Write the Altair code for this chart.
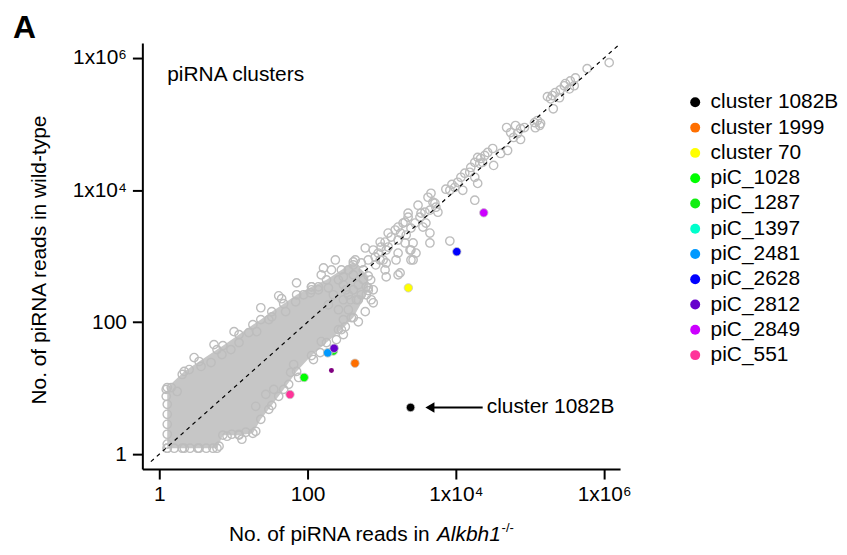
import altair as alt
import pandas as pd

# ---------------- data ----------------
# grey piRNA clusters (reads in Alkbh1-/- , reads in wild-type)
gray_x = [1.17e6, 5.9e5, 4.1e5, 3.5e5, 3.0e5, 2.9e5, 2.56e5, 2.2e5, 2.0e5, 1.72e5, 1.9e5, 2.5e5, 2.06e5, 3.4e5, 3.95e5,
          1.26e5, 1.15e5, 1.35e5, 1.18e5, 1.39e5, 4.84e4, 6.38e4, 7.46e4, 8.43e4, 6.79e4, 7.46e4, 5.48e4, 6.0e4,
          3.14e4, 2.69e4, 2.45e4, 2.16e4, 1.97e4, 1.8e4, 2.1e4, 2.3e4, 3.23e4, 4.02e4, 4.99e4, 1.97e4, 1.8e4, 1.59e4,
          1.54e4, 1.32e4, 1.17e4, 1.06e4, 9690, 8850, 1.24e4, 8300, 7330, 1.8e4, 4620, 4210, 4910, 5220, 5380, 4470,
          3830, 3390, 3280, 5730, 3090, 3950, 3600, 2810, 2480, 2270, 1940, 1660, 1520, 1340, 1110, 983, 1150, 897,
          1047, 1222, 1664, 2070, 2480, 2900, 2480, 4470, 4470, 8300, 2270, 2070, 1800, 2140, 2650, 2410, 2650, 953,
          600, 769, 1222, 817, 953, 1150, 1664, 1560, 659, 530, 440, 1110, 1150, 1664, 1770, 237, 210, 153, 355, 304,
          113, 140, 620,
          659, 722, 769, 600, 390, 323, 261, 245, 153, 148, 64.9, 59.1, 55.6, 40.8, 35, 27.3, 20, 20, 14.7, 11.9,
          9.5, 8.2,
          2.04, 2.53, 3.66, 4.99, 7.0, 9.25, 11.9, 16.1, 20.6, 30, 32.9, 50.6, 69, 88.3, 109.5, 140, 44.7, 113, 191,
          261,
          1.24, 1.45, 1.74, 1.24, 1.28, 1.28, 1.28, 1.28, 1.28, 1.28, 1.59, 2.04, 2.6, 3.3, 4.3, 5.3, 6.4,
          304, 355, 414, 484, 455, 530, 565, 414, 304, 223, 191, 261, 355, 304,
          2.95, 5.47, 10.2, 23.4, 40.8, 164, 71,
          75.7, 120, 304, 484, 30, 13,
          484, 620, 769, 710, 565, 830, 414, 330, 380]
gray_y = [8.5e5, 6.9e5, 5.0e5, 4.5e5, 4.1e5, 3.8e5, 3.3e5, 3.0e5, 2.7e5, 2.6e5, 2.4e5, 2.5e5, 1.7e5, 3.4e5, 3.8e5,
          1.13e5, 1.05e5, 9.5e4, 8.8e4, 1.02e5, 8.84e4, 9.5e4, 8.54e4, 8.84e4, 7.18e4, 5.83e4, 7.43e4, 6.25e4,
          4.26e4, 3.71e4, 3.34e4, 3.01e4, 3.12e4, 2.62e4, 2.53e4, 2.62e4, 2.36e4, 3.58e4, 3.98e4, 1.26e4, 1.56e4, 2.2e4,
          1.86e4, 1.8e4, 1.56e4, 1.31e4, 1.1e4, 1.22e4, 9920, 9920, 1.03e4, 7010, 8940, 7780, 6540, 6320, 5500, 4955,
          4620, 4470, 3890, 4620, 5890, 3160, 2750, 3160, 2650, 3890, 3160, 2750, 2480, 1940, 1630, 1370, 1236, 1110,
          873, 2230, 1750, 1580, 1236, 1110, 873, 2230, 1580, 1690, 4460, 3270, 2230, 2080, 1580, 1236, 873, 1630,
          1325, 1236, 1370, 970, 873, 787, 1110, 873, 873, 787, 873, 617, 484, 519, 556, 873, 617, 519, 617, 484,
          342, 342, 342,
          330, 218, 196, 144, 117, 85, 76.8, 54.3, 50.7, 34.5, 22.8, 17.3, 11.4, 7.5, 9.56, 8.04, 5.3, 2.22, 2.15, 2.0,
          2.0, 1.87,
          16.1, 19.1, 21.3, 24.4, 32.2, 38.3, 48.9, 69.2, 71.6, 109, 120, 144, 203, 259, 278, 308, 226, 308, 330,
          436,
          9.56, 10.2, 8.9, 7.5, 5.68, 4.01, 2.83, 2.0, 1.42, 1.23, 1.23, 1.23, 1.23, 1.23, 1.23, 1.23, 1.32,
          218, 259, 308, 367, 218, 259, 436, 519, 367, 259, 183, 154, 154, 109,
          29.0, 45.6, 71.6, 165, 250, 661, 393,
          14.5, 27.1, 64.6, 101, 4.77, 1.68,
          218, 259, 308, 436, 617, 734, 734, 308, 218]

# outline of the densely packed core of the grey cloud
band_x = [1.28, 2.17, 3.44, 6.0, 7.2, 11.9, 18.3, 23.4, 32.9, 47.6, 71.2, 113, 180, 286, 414, 659]
band_lo = [1.23, 1.23, 1.23, 1.23, 1.94, 1.94, 2.07, 3.37, 5.48, 9.56, 17.9, 31.1, 48.9, 76.8, 117, 300]
band_hi = [10.2, 17.9, 25.3, 38.3, 44.0, 64.6, 91.4, 109, 144, 190, 259, 342, 436, 617, 815, 500]

# highlighted clusters
cluster_names = ["cluster 1082B", "cluster 1999", "cluster 70", "piC_1028", "piC_1287", "piC_1397",
                 "piC_2481", "piC_2628", "piC_2812", "piC_2849", "piC_551"]
cluster_x = [2450, 436, 2290, 90, 223, 188, 187, 10300, 228, 23800, 58]
cluster_y = [5.1, 23.8, 330, 14.5, 36.4, 34.5, 34.2, 1165, 40.1, 4520, 8.0]
cluster_colors = ["#000000", "#ff6f00", "#ffff00", "#00ff00", "#11ee11", "#00ffcc",
                  "#0099ff", "#0000ff", "#6600cc", "#cc00ff", "#ff3399"]

extra_x = [210]
extra_y = [18.5]

diag = [0.77, 1.6e6]
tick_values = [1, 100, 10000, 1000000]

# ---------------- chart ----------------
FONT = "Liberation Sans"
label_expr = ("datum.value == 1 ? '1' : datum.value == 100 ? '100' : "
              "datum.value == 10000 ? '1x10\u2074' : '1x10\u2076'")

xscale = alt.Scale(type="log", domain=[0.591, 1.64e6], nice=False)
yscale = alt.Scale(type="log", domain=[0.594, 1.68e6], nice=False)

xaxis = alt.Axis(values=tick_values, labelExpr=label_expr, title=None, grid=False,
                 labelFont=FONT, labelFontSize=21, labelColor="black", labelPadding=5,
                 tickSize=10, tickWidth=2, tickColor="black", domainWidth=2, domainColor="black",
                 labelOverlap=False, labelFlush=False)
yaxis = alt.Axis(values=tick_values, labelExpr=label_expr, title=None, grid=False,
                 labelFont=FONT, labelFontSize=21, labelColor="black", labelPadding=6,
                 tickSize=10, tickWidth=2, tickColor="black", domainWidth=2, domainColor="black",
                 labelOverlap=False, labelFlush=False)

gray_df = pd.DataFrame({"x": gray_x, "y": gray_y})
band_df = pd.DataFrame({"x": band_x, "lo": band_lo, "hi": band_hi})
band_pts = pd.DataFrame({"x": band_x + band_x, "y": band_lo + band_hi})
clus_df = pd.DataFrame({"name": cluster_names, "x": cluster_x, "y": cluster_y,
                        "order": list(range(len(cluster_names)))})
extra_df = pd.DataFrame({"x": extra_x, "y": extra_y})
diag_df = pd.DataFrame({"x": diag, "y": diag})


def xy(xf="x:Q", yf="y:Q"):
    return dict(x=alt.X(xf, scale=xscale, axis=xaxis), y=alt.Y(yf, scale=yscale, axis=yaxis))


band = alt.Chart(band_df).mark_area(color="#c6c6c6", opacity=1).encode(
    **xy("x:Q", "lo:Q"), y2="hi:Q")

circle_style = dict(shape="circle", filled=False, color="#bdbdbd", strokeWidth=1.4, size=70, opacity=1)
band_circles = alt.Chart(band_pts).mark_point(**circle_style).encode(**xy())
gray = alt.Chart(gray_df).mark_point(**circle_style).encode(**xy())

diag_line = alt.Chart(diag_df).mark_line(color="black", strokeDash=[4, 4], strokeWidth=1.2).encode(**xy())

extra = alt.Chart(extra_df).mark_circle(color="#800080", size=25, opacity=1).encode(**xy())

clusters = alt.Chart(clus_df).mark_circle(size=72, opacity=1, stroke="#c8c8c8", strokeWidth=0.8).encode(
    **xy(),
    order=alt.Order("order:Q"),
    color=alt.Color("name:N",
                    scale=alt.Scale(domain=cluster_names, range=cluster_colors),
                    legend=alt.Legend(title=None, orient="none", legendX=545, legendY=49,
                                      labelFont=FONT, labelFontSize=21, labelColor="black",
                                      symbolType="circle", symbolSize=100, symbolStrokeWidth=0,
                                      rowPadding=3.4, labelOffset=5, padding=0)),
)

arrow_df = pd.DataFrame({"x": [4470], "x2": [23000], "y": [5.1]})
arrow_line = alt.Chart(arrow_df).mark_rule(color="black", strokeWidth=2).encode(**xy(), x2="x2:Q")
head_df = pd.DataFrame({"x": [4470], "y": [5.1]})
arrow_head = alt.Chart(head_df).mark_point(shape="triangle-left", filled=True, color="black",
                                           size=110, opacity=1).encode(**xy())
lab_df = pd.DataFrame({"x": [26100], "y": [5.1], "t": ["cluster 1082B"]})
arrow_text = alt.Chart(lab_df).mark_text(font=FONT, fontSize=21, align="left", baseline="middle",
                                         color="black").encode(**xy(), text="t:N")

one = pd.DataFrame({"k": [0]})


def label(text, x, y, **kw):
    return alt.Chart(one).mark_text(text=text, font=FONT, color="black", **kw).encode(
        x=alt.value(x), y=alt.value(y))


panel_a = label("A", -130, -5, fontSize=32, fontWeight="bold", align="left", baseline="alphabetic")
inner = label("piRNA clusters", 25, 38, fontSize=21, align="left", baseline="alphabetic")
ytitle = label("No. of piRNA reads in wild-type", -103, 218, fontSize=21, align="center",
               baseline="middle", angle=270)
xt1 = label("No. of piRNA reads in", 87, 500, fontSize=21, align="left", baseline="alphabetic")
xt2 = label("Alkbh1", 296, 500, fontSize=21, fontStyle="italic", align="left", baseline="alphabetic")
xt3 = label("-/-", 361, 491, fontSize=13, align="left", baseline="alphabetic")

chart = alt.layer(
    band, band_circles, gray, diag_line, extra, clusters,
    arrow_line, arrow_head, arrow_text,
    panel_a, inner, ytitle, xt1, xt2, xt3,
).properties(
    width=480, height=428,
    autosize=alt.AutoSizeParams(type="none"),
    padding={"left": 135, "top": 34, "right": 220, "bottom": 76},
).configure_view(strokeWidth=0)

chart.save("out.html", embed_options={"renderer": "svg", "actions": False})
